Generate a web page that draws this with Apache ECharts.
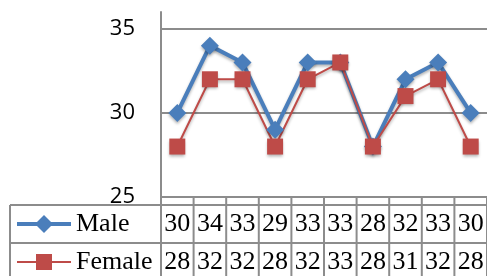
<!DOCTYPE html>
<html>
<head>
<meta charset="utf-8">
<script src="https://cdn.jsdelivr.net/npm/echarts@6/dist/echarts.min.js"></script>
<style>
  html, body { margin: 0; padding: 0; background: #fff; }
  #chart { width: 487px; height: 276px; }
</style>
</head>
<body>
<div id="chart"></div>
<script>
var cats = ['', '', '', '', '', '', '', '', '', ''];
var maleVals = [30, 34, 33, 29, 33, 33, 28, 32, 33, 30];
var femaleVals = [28, 32, 32, 28, 32, 33, 28, 31, 32, 28];
var yTicks = [25, 30, 35];

var blue = '#4A7EBB';
var red = '#BE4B48';
var gridCol = '#8c8c8c';

var chart = echarts.init(document.getElementById('chart'));

var option = {
    animation: false,
    grid: { left: 161, right: 0, top: 12, bottom: 79 },
    xAxis: {
        type: 'category',
        data: cats,
        boundaryGap: true,
        axisLine: { show: true, lineStyle: { color: gridCol, width: 2 } },
        axisTick: { show: false },
        axisLabel: { show: false }
    },
    yAxis: {
        type: 'value',
        min: yTicks[0],
        max: 36,
        interval: 5,
        axisLine: { show: true, lineStyle: { color: gridCol, width: 2 } },
        axisTick: { show: false },
        axisLabel: {
            showMaxLabel: false,
            fontSize: 22,
            color: '#000',
            margin: 26,
            fontFamily: 'Open Sans'
        },
        splitLine: { show: true, showMaxLine: false, lineStyle: { color: gridCol, width: 2 } }
    },
    series: [
        {
            name: 'Male',
            type: 'line',
            data: maleVals,
            symbol: 'diamond',
            symbolSize: 18,
            lineStyle: { color: blue, width: 4, shadowColor: 'rgba(0,0,0,0.3)', shadowBlur: 3, shadowOffsetY: 2 },
            itemStyle: { color: blue, shadowColor: 'rgba(0,0,0,0.3)', shadowBlur: 3, shadowOffsetY: 2 }
        },
        {
            name: 'Female',
            type: 'line',
            data: femaleVals,
            symbol: 'rect',
            symbolSize: 16,
            lineStyle: { color: red, width: 2, shadowColor: 'rgba(0,0,0,0.3)', shadowBlur: 3, shadowOffsetY: 2 },
            itemStyle: { color: red, shadowColor: 'rgba(0,0,0,0.3)', shadowBlur: 3, shadowOffsetY: 2 }
        }
    ]
};
chart.setOption(option);

// data table under the plot, built from the same arrays
var rows = [
    { name: 'Male', vals: maleVals, color: blue, symbol: 'diamond', lw: 4 },
    { name: 'Female', vals: femaleVals, color: red, symbol: 'rect', lw: 2 }
];
var axisY = chart.convertToPixel({ yAxisIndex: 0 }, yTicks[0]);
var x0 = chart.convertToPixel({ xAxisIndex: 0 }, 0);
var x1 = chart.convertToPixel({ xAxisIndex: 0 }, 1);
var cw = x1 - x0;
var left = 10;
var plotLeft = x0 - cw / 2;
var tableTop = axisY + 8;
var rowH = 38;
var g = [];
var ls = { stroke: gridCol, lineWidth: 2 };

g.push({ type: 'line', shape: { x1: left, y1: tableTop, x2: 487, y2: tableTop }, style: ls });
g.push({ type: 'line', shape: { x1: left, y1: tableTop, x2: left, y2: 290 }, style: ls });
for (var i = 0; i <= cats.length; i++) {
    var bx = plotLeft + i * cw;
    g.push({ type: 'line', shape: { x1: bx, y1: axisY, x2: bx, y2: 290 }, style: ls });
}
rows.forEach(function (r, ri) {
    var top = tableTop + ri * rowH;
    var cy = top + rowH / 2;
    g.push({ type: 'line', shape: { x1: left, y1: top + rowH, x2: 487, y2: top + rowH }, style: ls });
    g.push({ type: 'line', shape: { x1: 17, y1: cy, x2: 71, y2: cy }, style: { stroke: r.color, lineWidth: r.lw } });
    if (r.symbol === 'diamond') {
        g.push({ type: 'polygon', shape: { points: [[44, cy - 9], [53, cy], [44, cy + 9], [35, cy]] }, style: { fill: r.color } });
    } else {
        g.push({ type: 'rect', shape: { x: 36, y: cy - 8, width: 16, height: 16 }, style: { fill: r.color } });
    }
    g.push({ type: 'text', x: 76, y: cy, style: { text: r.name, font: '26px "Liberation Serif"', fill: '#000', textVerticalAlign: 'middle' } });
    r.vals.forEach(function (v, i) {
        var cx = chart.convertToPixel({ xAxisIndex: 0 }, i);
        g.push({ type: 'text', x: cx, y: cy, style: { text: String(v), font: '26px "Liberation Serif"', fill: '#000', textAlign: 'center', textVerticalAlign: 'middle' } });
    });
});
chart.setOption({ graphic: g });
</script>
</body>
</html>
